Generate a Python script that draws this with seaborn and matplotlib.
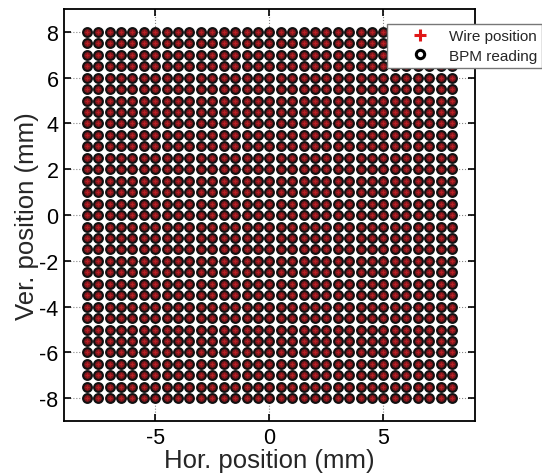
import numpy as np
import pandas as pd
import matplotlib
matplotlib.use("Agg")
import matplotlib.pyplot as plt
import seaborn as sns

# wire grid positions (mm), 0.5 mm step
hor_pos = [-8.0, -7.5, -7.0, -6.5, -6.0, -5.5, -5.0, -4.5, -4.0, -3.5, -3.0,
           -2.5, -2.0, -1.5, -1.0, -0.5, 0.0, 0.5, 1.0, 1.5, 2.0, 2.5, 3.0,
           3.5, 4.0, 4.5, 5.0, 5.5, 6.0, 6.5, 7.0, 7.5, 8.0]
ver_pos = [-8.0, -7.5, -7.0, -6.5, -6.0, -5.5, -5.0, -4.5, -4.0, -3.5, -3.0,
           -2.5, -2.0, -1.5, -1.0, -0.5, 0.0, 0.5, 1.0, 1.5, 2.0, 2.5, 3.0,
           3.5, 4.0, 4.5, 5.0, 5.5, 6.0, 6.5, 7.0, 7.5, 8.0]
# BPM readings sit on top of the wire positions at this scale
bpm_hor = hor_pos
bpm_ver = ver_pos

xx, yy = np.meshgrid(hor_pos, ver_pos)
wire = pd.DataFrame({"x": xx.ravel(), "y": yy.ravel()})
bx, by = np.meshgrid(bpm_hor, bpm_ver)
bpm = pd.DataFrame({"x": bx.ravel(), "y": by.ravel()})

sns.set_style("ticks")
plt.rcParams["font.family"] = ["Liberation Sans", "DejaVu Sans"]
plt.rcParams["axes.unicode_minus"] = False

fig = plt.figure(figsize=(5.42, 4.77), dpi=100)
ax = fig.add_axes([0.118, 0.115, 0.758, 0.864])

sns.scatterplot(data=bpm, x="x", y="y", ax=ax, marker="o", s=40,
                facecolor="#7e161c", edgecolor="#111111", linewidth=1.5,
                zorder=3, legend=False)
sns.scatterplot(data=wire, x="x", y="y", ax=ax, marker="+", s=8,
                color="#b82024", linewidth=0.9, zorder=4, legend=False)

ax.set_xlim(-9, 9)
ax.set_ylim(-9, 9)
ax.set_xticks([-5, 0, 5])
ax.set_yticks([-8, -6, -4, -2, 0, 2, 4, 6, 8])
ax.grid(True, linestyle=":", color="#888888", linewidth=0.8)
ax.set_axisbelow(True)
ax.tick_params(direction="in", length=5, width=1.2, labelsize=15.5, pad=4,
               top=True, right=True, colors="black")
for sp in ax.spines.values():
    sp.set_linewidth(1.3)
    sp.set_color("black")
ax.set_xlabel("Hor. position (mm)", fontsize=18.5, labelpad=0)
ax.set_ylabel("Ver. position (mm)", fontsize=18.5, labelpad=0)

h1 = plt.Line2D([], [], marker="+", color="#e01818", linestyle="none",
                markersize=8, markeredgewidth=2.2)
h2 = plt.Line2D([], [], marker="o", color="black", markerfacecolor="white",
                linestyle="none", markersize=6, markeredgewidth=2.2)
leg = ax.legend([h1, h2], ["Wire position", "BPM reading"], loc="upper left",
                bbox_to_anchor=(387 / 542, 1 - 25 / 477),
                bbox_transform=fig.transFigure, fontsize=11, frameon=True,
                fancybox=False, edgecolor="#777777", framealpha=1,
                handlelength=3.6, handletextpad=0.1, borderpad=0.35,
                labelspacing=0.35, borderaxespad=0)
leg.get_frame().set_linewidth(1.0)
leg.set_zorder(10)

fig.savefig("out.png", dpi=100)
